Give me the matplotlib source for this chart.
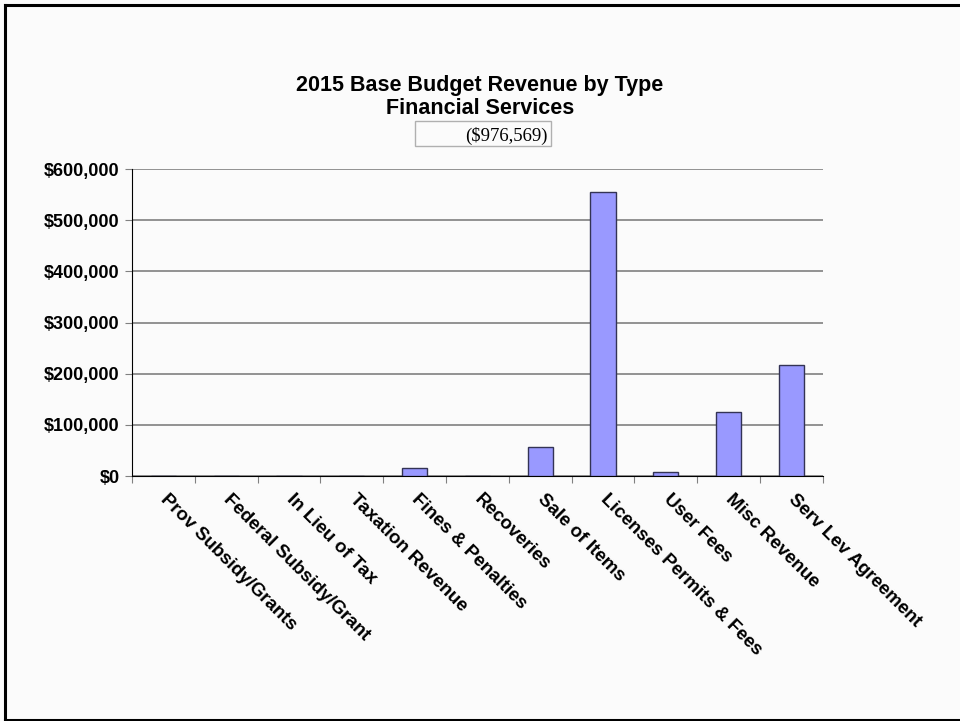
import matplotlib.pyplot as plt
from matplotlib.lines import Line2D
from matplotlib.ticker import FuncFormatter, FixedLocator
import numpy as np

categories = ['Prov Subsidy/Grants', 'Federal Subsidy/Grant', 'In Lieu of Tax',
              'Taxation Revenue', 'Fines & Penalties', 'Recoveries', 'Sale of Items',
              'Licenses Permits & Fees', 'User Fees', 'Misc Revenue', 'Serv Lev Agreement']
values = [0, 0, 0, 0, 15000, 0, 56000, 556000, 7000, 125000, 217569]
total_label = '($976,569)'

plt.rcParams['font.family'] = ['Liberation Sans', 'DejaVu Sans']

fig = plt.figure(figsize=(9.6, 7.21), dpi=100, facecolor='#fbfbfb')
ax = fig.add_axes([0.1375, 0.3398, 0.7195, 0.4258])
ax.set_facecolor('#fbfbfb')

x = np.arange(len(categories))
ax.bar(x, values, width=0.4, color='#9999ff', edgecolor='#333355', linewidth=1, zorder=3)

ax.set_xlim(-0.5, len(categories) - 0.5)
ax.set_ylim(0, 600000)
ax.set_yticks(np.arange(0, 600001, 100000))
ax.yaxis.set_major_formatter(FuncFormatter(lambda v, p: '${:,.0f}'.format(v)))
ax.grid(axis='y', color='#808080', linewidth=1.2, zorder=0)

ax.xaxis.set_major_locator(FixedLocator(np.arange(-0.5, len(categories), 1)))
ax.set_xticklabels([])
ax.xaxis.set_minor_locator(FixedLocator(x))
ax.set_xticklabels(categories, minor=True)
ax.tick_params(axis='x', which='minor', length=0, pad=15)
ax.tick_params(axis='x', which='major', length=5, color='#808080', direction='out')
ax.tick_params(axis='y', length=5, color='#808080', direction='out', labelsize=13, pad=4)
for lbl in ax.get_yticklabels():
    lbl.set_fontweight('bold')
for lbl in ax.get_xticklabels(minor=True):
    lbl.set_rotation(-45)
    lbl.set_rotation_mode('anchor')
    lbl.set_ha('left')
    lbl.set_va('center')
    lbl.set_fontsize(13.5)
    lbl.set_fontweight('bold')

for s in ['top', 'right']:
    ax.spines[s].set_visible(False)
ax.spines['left'].set_color('black')
ax.spines['bottom'].set_color('black')

fig.text(0.5, 1 - 86 / 721, '2015 Base Budget Revenue by Type', ha='center', va='center',
         fontsize=15.5, fontweight='bold')
fig.text(0.5, 1 - 109 / 721, 'Financial Services', ha='center', va='center',
         fontsize=15.5, fontweight='bold')
fig.text(548 / 960, 1 - 136 / 721, total_label, ha='right', va='center', fontsize=13.5,
         family=['Liberation Serif', 'DejaVu Serif'])
fig.add_artist(plt.Rectangle((415 / 960, 1 - 146 / 721), 136 / 960, 25 / 721,
                             transform=fig.transFigure, fill=False, edgecolor='#b0b0b0', lw=1))

# outer frame (left, top, bottom)
fig.add_artist(Line2D([4.5 / 960, 4.5 / 960], [0, 1 - 4.5 / 721], transform=fig.transFigure, color='black', lw=2.2))
fig.add_artist(Line2D([4.5 / 960, 1], [1 - 4.5 / 721, 1 - 4.5 / 721], transform=fig.transFigure, color='black', lw=2.2))
fig.add_artist(Line2D([4.5 / 960, 1], [1 / 721, 1 / 721], transform=fig.transFigure, color='black', lw=2.2))

fig.savefig('out.png', dpi=100, facecolor=fig.get_facecolor())
